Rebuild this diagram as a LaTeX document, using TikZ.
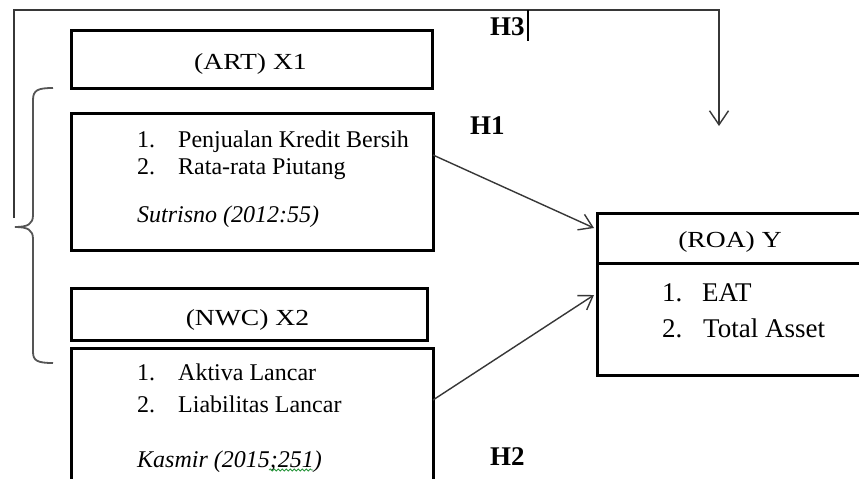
\documentclass[tikz,border=0pt]{standalone}
\usepackage{fontspec}
\setmainfont{Liberation Serif}
\newfontfamily\widefont[FakeStretch=1.2]{Liberation Serif}
\usetikzlibrary{arrows.meta,decorations.pathmorphing}
\definecolor{thinline}{RGB}{55,55,55}
\definecolor{bracecol}{RGB}{85,85,85}
\definecolor{spellgreen}{RGB}{40,150,60}
\begin{document}
\begin{tikzpicture}[x=1pt,y=-1pt,
  box/.style={draw=black,line width=3pt,rectangle,inner sep=0pt,outer sep=0pt,anchor=north west},
  link/.style={draw=thinline,line width=1.4pt,-{Straight Barb[length=13pt,width=17pt,line width=1.4pt]}},
  title/.style={font=\widefont\fontsize{23}{28}\selectfont,inner sep=0pt,anchor=base},
  item/.style={font=\fontsize{24}{29}\selectfont,inner sep=0pt,anchor=base west},
  itembig/.style={font=\fontsize{27}{32}\selectfont,inner sep=0pt,anchor=base west},
  cite/.style={font=\itshape\fontsize{24}{29}\selectfont,inner sep=0pt,anchor=base west},
  hyp/.style={font=\bfseries\fontsize{27}{32}\selectfont,inner sep=0pt,anchor=base west}]
\useasboundingbox (0,0) rectangle (859,479);
\clip (0,0) rectangle (859,479);
\fill[white] (0,0) rectangle (859,479);

% independent variable X1
\node[box,minimum width=361pt,minimum height=58pt] (art) at (71,30) {};
\node[title] (arttitle) at (250.5,69) {(ART) X1};
\node[box,minimum width=362pt,minimum height=137pt] (ind1) at (71,113) {};
\node[item] (i1n1) at (137,147) {1.};
\node[item] (i1t1) at (178,147) {Penjualan Kredit Bersih};
\node[item] (i1n2) at (137,174) {2.};
\node[item] (i1t2) at (178,174) {Rata-rata Piutang};
\node[cite] (cite1) at (137,222) {Sutrisno (2012:55)};

% independent variable X2
\node[box,minimum width=356pt,minimum height=52pt] (nwc) at (71,288) {};
\node[title] (nwctitle) at (247.5,325) {(NWC) X2};
\node[box,minimum width=362pt,minimum height=152pt] (ind2) at (71,348) {};
\node[item] (i2n1) at (137,380) {1.};
\node[item] (i2t1) at (178,380) {Aktiva Lancar};
\node[item] (i2n2) at (137,412) {2.};
\node[item] (i2t2) at (178,412) {Liabilitas Lancar};
\node[cite] (cite2) at (137,467) {Kasmir (2015;251)};
\draw[spellgreen,line width=0.8pt,decorate,decoration={snake,amplitude=1pt,segment length=4pt}]
  (269,470) -- (313,470);

% dependent variable Y
\node[box,minimum width=283pt,minimum height=50pt] (roahead) at (597,213) {};
\node[box,minimum width=283pt,minimum height=112pt] (roabody) at (597,263) {};
\node[title] (roatitle) at (730,247) {(ROA) Y};
\node[itembig] (rn1) at (662,301) {1.};
\node[itembig] (rt1) at (702,301) {EAT};
\node[itembig] (rn2) at (662,337) {2.};
\node[itembig] (rt2) at (703,337) {Total Asset};

% hypothesis labels
\node[hyp] (h1) at (470,134) {H1};
\node[hyp] (h2) at (490,465) {H2};
\node[hyp] (h3) at (490,35) {H3};

% partial effects
\draw[link] ([yshift=26.5pt]ind1.east) -- ([xshift=-3pt,yshift=10pt]roahead.west);
\draw[link] ([yshift=24pt]ind2.east) -- ([xshift=-3pt,yshift=24pt]roabody.west);

% simultaneous effect
\coordinate (h3from) at (14,218);
\coordinate (h3to) at (719,126);
\coordinate (h3level) at (0,10);
\draw[link,-{Straight Barb[length=14pt,width=19pt,line width=1.4pt]}]
  (h3from) -- (h3from |- h3level) -- (h3to |- h3level) -- (h3to);
\draw[black,line width=2.2pt] (528,10) -- (528,41);

% brace grouping X1 and X2
\draw[bracecol,line width=1.8pt]
  (53,88) .. controls (38,88) and (33,90) .. (33,100) -- (33,215)
  .. controls (33,224) and (28,227) .. (15,227)
  .. controls (28,227) and (33,230) .. (33,239) -- (33,352)
  .. controls (33,361) and (38,363) .. (53,363);
\end{tikzpicture}
\end{document}
